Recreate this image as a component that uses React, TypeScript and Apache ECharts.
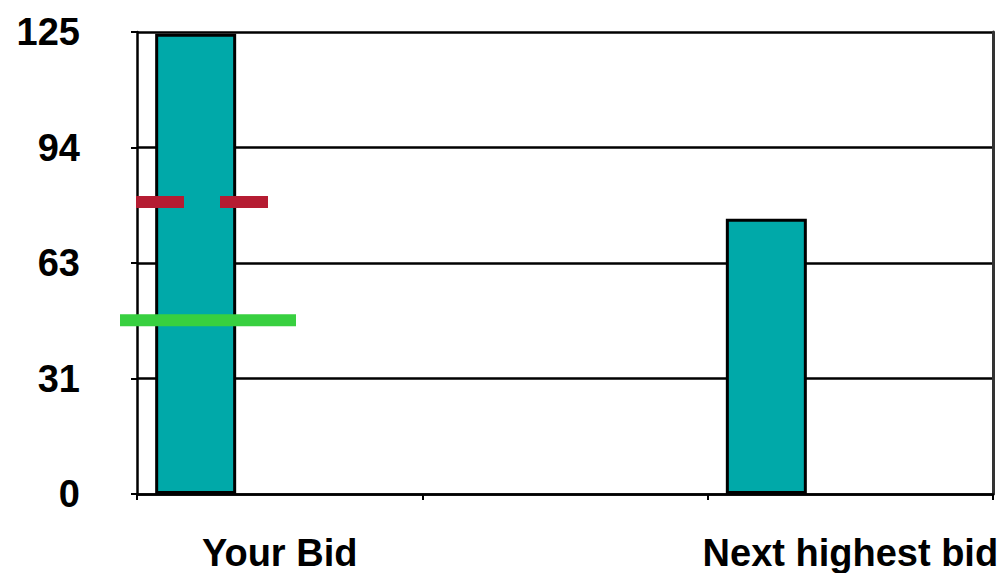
import React, { useEffect, useRef } from "react";
import * as echarts from "echarts";

const categories = ["Your Bid", "", "Next highest bid"];
const bidValues = [124.5, null, 74.5];
const placeholderValues = [null, null, null];
const redMarker = [[0, 79]];
const greenMarker = [[0, 47]];
const yMin = 0;
const yMax = 125;
const yInterval = 31.25;

const FONT = "'Liberation Sans', Arial, sans-serif";

export default function App() {
  const ref = useRef<HTMLDivElement>(null);
  useEffect(() => {
    document.body.style.margin = "0";
    const chart = echarts.init(ref.current!, undefined, { renderer: "svg" });
    const markerSeries = (data: number[][], color: string, startOff: number, endOff: number, dash: number[] | null) => ({
      type: "custom",
      data,
      z: 5,
      clip: false,
      encode: { x: 0, y: 1 },
      renderItem: (params: any, api: any) => {
        const pt = api.coord([api.value(0), api.value(1)]);
        const band = api.size([1, 0])[0];
        const left = pt[0] - band / 2;
        return {
          type: "line",
          shape: { x1: left + startOff, y1: pt[1], x2: left + endOff, y2: pt[1] },
          style: { stroke: color, lineWidth: 12, lineDash: dash || undefined, lineCap: "butt" },
        };
      },
    });
    chart.setOption({
      animation: false,
      grid: { left: 137, right: 13, top: 32, bottom: 79, containLabel: false },
      xAxis: {
        type: "category",
        data: categories,
        axisLine: { show: true, lineStyle: { color: "#000", width: 2.5 } },
        axisTick: { show: true, length: 6, lineStyle: { color: "#000", width: 2 } },
        axisLabel: {
          interval: 0,
          margin: 40,
          color: "#000",
          fontFamily: FONT,
          fontWeight: "bold",
          fontSize: 38,
        },
      },
      yAxis: [
        {
          type: "value",
          min: yMin,
          max: yMax,
          interval: yInterval,
          axisLine: { show: true, lineStyle: { color: "#000", width: 2.5 } },
          axisTick: { show: true, length: 6, lineStyle: { color: "#000", width: 2 } },
          splitLine: { show: true, lineStyle: { color: "#000", width: 2.5 } },
          axisLabel: {
            margin: 57,
            color: "#000",
            fontFamily: FONT,
            fontWeight: "bold",
            fontSize: 38,
            formatter: (v: number) => String(Math.round(v)),
          },
        },
        {
          type: "value",
          position: "right",
          min: yMin,
          max: yMax,
          interval: yInterval,
          axisLine: { show: true, lineStyle: { color: "#333", width: 3 } },
          axisTick: { show: false },
          splitLine: { show: false },
          axisLabel: { show: false },
        },
      ],
      series: [
        {
          type: "bar",
          data: bidValues,
          barWidth: 81,
          barGap: "107.4%",
          itemStyle: { color: "#00A9A9", borderColor: "#000", borderWidth: 3 },
          z: 3,
        },
        {
          type: "bar",
          data: placeholderValues,
          barWidth: 81,
        },
        markerSeries(redMarker, "#B51C32", -1, 131, [48, 36]),
        markerSeries(greenMarker, "#38D040", -17, 159, null),
      ],
    });
    return () => chart.dispose();
  }, []);
  return <div ref={ref} style={{ width: 1006, height: 573 }} />;
}
